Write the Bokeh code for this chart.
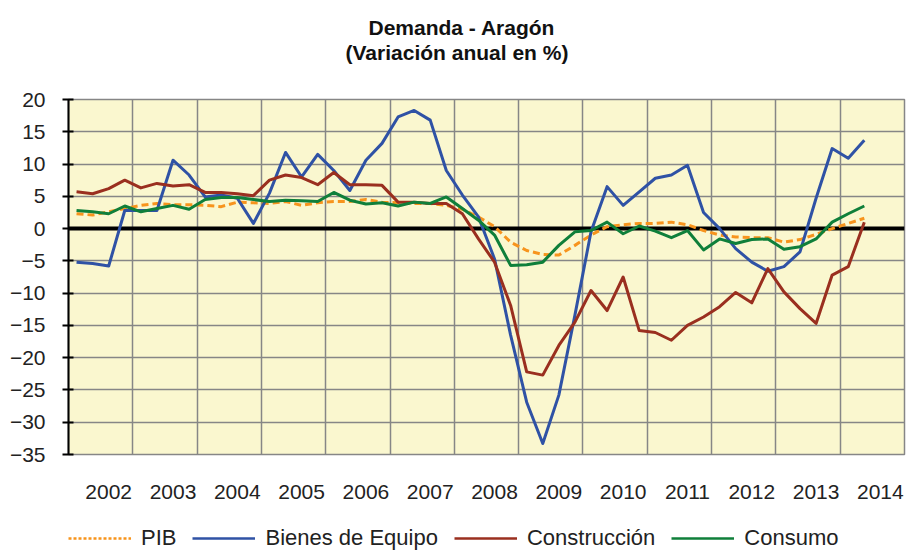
from bokeh.plotting import figure
from bokeh.layouts import column
from bokeh.models import (FixedTicker, Span, Title, Legend, LegendItem,
                          CustomJSTickFormatter)
from bokeh.embed import file_html
from bokeh.resources import INLINE

# ---- data (quarterly, 2002T1 .. 2014T2) ----
years = list(range(2002, 2015))
pib = [2.3, 2.1, 2.6, 3.1, 3.6, 3.9, 3.7, 3.7, 3.6, 3.4, 4.1, 4.0, 3.9,
       4.2, 3.6, 4.0, 4.2, 4.2, 4.5, 4.1, 4.0, 3.9, 3.9, 3.6, 3.0, 1.8,
       0.3, -2.1, -3.4, -4.0, -4.1, -2.6, -1.0, 0.3, 0.6, 0.8, 0.8, 1.0, 0.6,
       -0.3, -1.0, -1.3, -1.4, -1.4, -2.1, -1.7, -0.9, 0.0, 0.8, 1.6]
bienes = [-5.2, -5.4, -5.8, 2.8, 2.8, 2.8, 10.6, 8.3, 4.9, 5.2, 4.7, 0.8, 5.5,
          11.8, 8.0, 11.5, 9.0, 5.9, 10.6, 13.2, 17.3, 18.3, 16.8, 9.0, 5.2, 1.8,
          -4.7, -16.5, -26.9, -33.3, -25.8, -13.4, -0.5, 6.5, 3.6, 5.7, 7.8, 8.3, 9.8,
          2.5, 0.0, -3.1, -5.2, -6.6, -5.9, -3.6, 4.7, 12.4, 10.9, 13.7]
construccion = [5.7, 5.4, 6.2, 7.5, 6.3, 7.0, 6.6, 6.8, 5.6, 5.6, 5.4, 5.1, 7.5,
                8.3, 7.9, 6.8, 8.7, 6.8, 6.8, 6.7, 4.1, 4.1, 3.9, 3.9, 2.3, -1.6,
                -5.2, -11.9, -22.2, -22.7, -18.1, -14.5, -9.6, -12.7, -7.5, -15.8, -16.1, -17.3, -15.0,
                -13.7, -12.1, -9.9, -11.5, -6.2, -9.8, -12.4, -14.7, -7.2, -5.9, 1.0]
consumo = [2.8, 2.6, 2.3, 3.5, 2.6, 3.1, 3.6, 3.0, 4.5, 4.8, 4.8, 4.5, 4.2,
           4.4, 4.3, 4.2, 5.6, 4.4, 3.8, 4.0, 3.5, 4.1, 3.9, 4.9, 3.1, 1.3,
           -1.0, -5.7, -5.6, -5.2, -2.6, -0.5, -0.3, 1.0, -0.8, 0.4, -0.4, -1.4, -0.3,
           -3.3, -1.6, -2.3, -1.7, -1.6, -3.2, -2.8, -1.6, 1.0, 2.3, 3.5]
yticks = list(range(-35, 21, 5))
series_names = ["PIB", "Bienes de Equipo", "Construcción", "Consumo"]
series_vals = [pib, bienes, construccion, consumo]
colors = ["#F7941D", "#2F52A5", "#9A2F1F", "#0F7F3A"]
dashes = ["7 4", "solid", "solid", "solid"]

n = len(pib)
x = [years[0] + (i + 0.5) / 4 for i in range(n)]

FONT = "Liberation Sans"

p = figure(width=907, height=512, x_range=(years[0], years[-1] + 1), y_range=(-35, 20),
           output_backend="svg", toolbar_location=None,
           min_border_left=68, min_border_right=3, min_border_top=99, min_border_bottom=58)

p.title.text = "Demanda - Aragón"
p.title.text_font = FONT
p.title.text_font_size = "21px"
p.title.text_font_style = "bold"
p.title.text_color = "#111111"
p.title.align = "left"
p.title.offset = 300
p.title.standoff = 0
# invisible spacer between the subtitle and the plot frame (first added = closest to frame)
p.add_layout(Title(text=" ", text_font_size="1px", standoff=33), "above")
p.add_layout(Title(text="(Variación anual en %)", text_font=FONT, text_font_size="21px",
                   text_color="#111111", text_font_style="bold", align="left", offset=277,
                   standoff=0), "above")

p.background_fill_color = "#FAF7CF"
p.border_fill_color = "white"
p.outline_line_color = "#868686"
p.outline_line_width = 1.5

p.xgrid.ticker = FixedTicker(ticks=list(range(years[0], years[-1] + 2)))
p.ygrid.ticker = FixedTicker(ticks=yticks)
for g in (p.xgrid, p.ygrid):
    g.grid_line_color = "#868686"
    g.grid_line_width = 1.5

zero = Span(location=0, dimension="width", line_color="black", line_width=4, level="underlay")
p.add_layout(zero)

for vals, c, d in zip(series_vals, colors, dashes):
    p.line(x, vals, line_color=c, line_width=3, line_dash=d, line_join="round")

ya = p.yaxis[0]
ya.ticker = FixedTicker(ticks=yticks)
ya.axis_line_color = "black"
ya.axis_line_width = 2
ya.major_tick_line_color = "black"
ya.major_tick_line_width = 2
ya.major_tick_in = 5
ya.major_tick_out = 6
ya.minor_tick_line_color = None
ya.major_label_text_font = FONT
ya.major_label_text_font_size = "21px"
ya.major_label_text_color = "#222222"
ya.major_label_standoff = 17

xa = p.xaxis[0]
xa.ticker = FixedTicker(ticks=[y + 0.625 for y in years])
xa.formatter = CustomJSTickFormatter(code="return Math.floor(tick).toFixed(0)")
xa.axis_line_color = None
xa.major_tick_line_color = None
xa.minor_tick_line_color = None
xa.major_label_text_font = FONT
xa.major_label_text_font_size = "21px"
xa.major_label_text_color = "#222222"
xa.major_label_standoff = 24

# ---- legend strip below the chart (series drawn outside its visible range) ----
pl = figure(width=907, height=40, x_range=(0, 1), y_range=(0, 1),
            x_axis_location=None, y_axis_location=None,
            output_backend="svg", toolbar_location=None,
            min_border=0, min_border_left=0, min_border_right=0,
            min_border_top=0, min_border_bottom=0)
pl.grid.visible = False
pl.outline_line_color = None
pl.background_fill_color = "white"
items = []
for name, vals, c, d in zip(series_names, series_vals, colors, dashes):
    r = pl.line(x, vals, line_color=c, line_width=2.5,
                line_dash=("3 2" if d != "solid" else d))
    items.append(LegendItem(label=name, renderers=[r]))
legend = Legend(items=items, orientation="horizontal", location=(0, 1),
                glyph_width=63, label_standoff=10, spacing=16, padding=0, margin=0,
                background_fill_alpha=0, border_line_alpha=0,
                label_text_font=FONT, label_text_font_size="22px",
                label_text_color="#222222")
pl.add_layout(legend, "center")

layout = column(p, pl, spacing=0)
open("out.html", "w").write(file_html(layout, INLINE))
